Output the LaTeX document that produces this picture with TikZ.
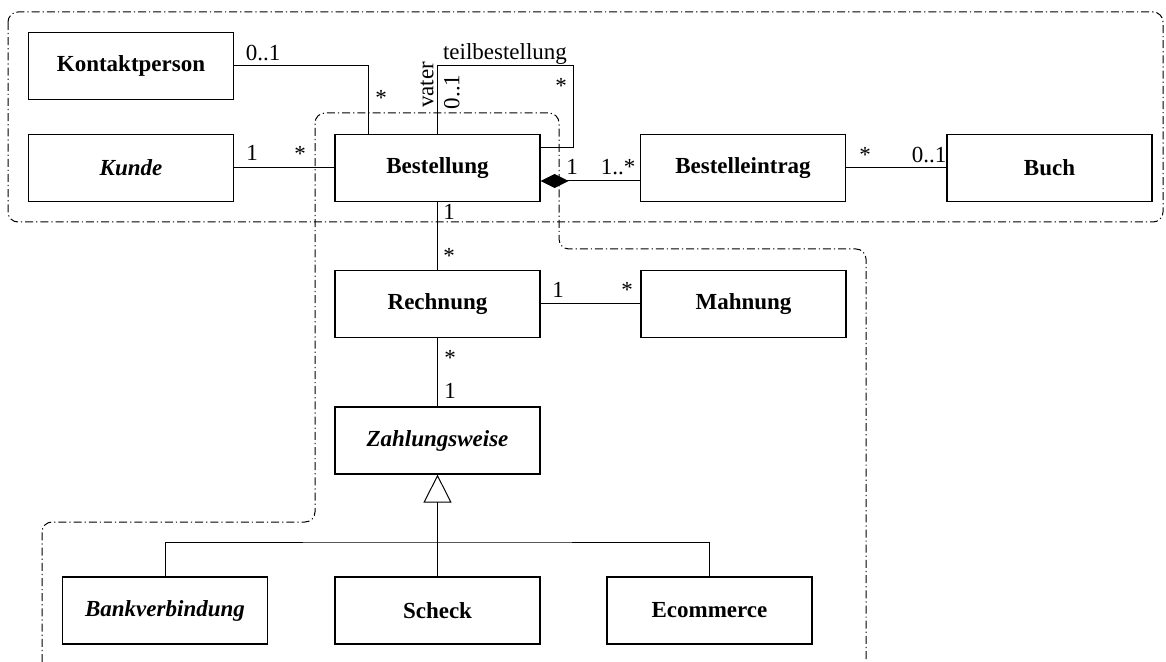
\documentclass[tikz,border=0pt]{standalone}
\usepackage{fontspec}
\setmainfont{Liberation Serif}
\usetikzlibrary{arrows.meta}

\begin{document}
\begin{tikzpicture}[x=0.5pt, y=-0.5pt,
        every node/.style={font=\fontsize{11.5}{13.8}\selectfont},
        klasse/.style={draw, line width=0.6pt, minimum width=102.5pt, minimum height=33.5pt, inner sep=0pt, font=\fontsize{11.5}{13.8}\selectfont\bfseries},
        abstrakt/.style={klasse, font=\fontsize{11.5}{13.8}\selectfont\bfseries\itshape},
        verb/.style={line width=0.5pt},
        mult/.style={inner sep=0pt},
        gruppe/.style={line width=0.5pt, dash pattern=on 4pt off 1.5pt on 0.6pt off 1.5pt, rounded corners=5pt}]
        \useasboundingbox (0,0) rectangle (1166,662);

        \draw[gruppe] (8,12) rectangle (1163,222);
        \draw[gruppe] (42,662) -- (42,522) -- (315,522) -- (315,113) -- (559,113) -- (559,249) -- (866,249) -- (866,662);

        \node[klasse] (kontakt) at (131, 66) {Kontaktperson};
        \node[abstrakt] (kunde) at (131, 168) {Kunde};
        \node[klasse] (bestellung) at (437.5, 168) {Bestellung};
        \node[klasse] (eintrag) at (743, 168) {Bestelleintrag};
        \node[klasse] (buch) at (1049.5, 168) {Buch};
        \node[klasse] (rechnung) at (437.5, 304) {Rechnung};
        \node[klasse] (mahnung) at (743.5, 304) {Mahnung};
        \node[abstrakt] (zahlung) at (437.5, 440.5) {Zahlungsweise};
        \node[abstrakt] (bank) at (165, 610.5) {Bankverbindung};
        \node[klasse] (scheck) at (437.5, 610.5) {Scheck};
        \node[klasse] (ecom) at (709.5, 610.5) {Ecommerce};

        \coordinate (selbst) at (573, 66);
        \coordinate (verzweig) at (437.5, 542);

        \draw[verb] (kontakt.east) -| ([xshift=17pt]bestellung.north west);
        \draw[verb] (kunde) -- (bestellung);
        \draw[verb] (bestellung.north) |- (selbst) |- ([yshift=10pt]bestellung.east);
        \draw[verb, -{Diamond[length=14pt, width=7pt]}] ([yshift=-6.5pt]eintrag.west) -- ([yshift=-6.5pt]bestellung.east);
        \draw[verb] (eintrag) -- (buch);
        \draw[verb] (bestellung) -- (rechnung);
        \draw[verb] (rechnung) -- (mahnung);
        \draw[verb] (rechnung) -- (zahlung);
        \draw[verb, -{Triangle[open, length=14pt, width=14pt]}] (scheck) -- (zahlung);
        \draw[verb] (bank.north) |- (verzweig) -| (ecom.north);

        \node[mult] (m1) at (263, 53) {0..1};
        \node[mult] (m2) at (381, 98) {*};
        \node[mult] (m3) at (252, 153) {1};
        \node[mult] (m4) at (300, 154) {*};
        \node[mult] (teil) at (505, 54) {teilbestellung};
        \node[mult, rotate=90] (vater) at (427, 85) {vater};
        \node[mult, rotate=90] (m5) at (452, 92) {0..1};
        \node[mult] (m6) at (561, 86) {*};
        \node[mult] (m7) at (572, 167) {1};
        \node[mult] (m8) at (618, 167) {1..*};
        \node[mult] (m9) at (865, 155) {*};
        \node[mult] (m10) at (929, 155) {0..1};
        \node[mult] (m11) at (449, 212) {1};
        \node[mult] (m12) at (449, 256) {*};
        \node[mult] (m13) at (558, 290) {1};
        \node[mult] (m14) at (627, 290) {*};
        \node[mult] (m15) at (450, 358) {*};
        \node[mult] (m16) at (450, 391) {1};
    \end{tikzpicture}
\end{document}
